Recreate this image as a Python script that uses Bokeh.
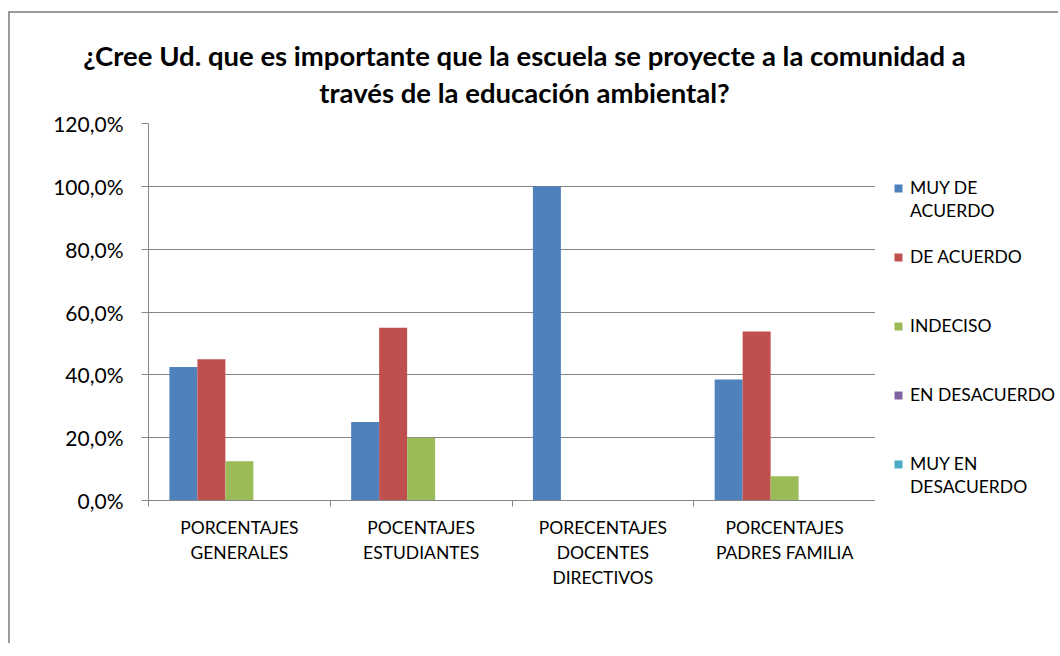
from bokeh.plotting import figure
from bokeh.layouts import column, row
from bokeh.models import FixedTicker, Legend, LegendItem, Label, ColumnDataSource, Range1d
from bokeh.embed import file_html
from bokeh.resources import INLINE

categories = ["PORCENTAJES\nGENERALES", "POCENTAJES\nESTUDIANTES",
              "PORECENTAJES\nDOCENTES\nDIRECTIVOS", "PORCENTAJES\nPADRES FAMILIA"]
series_names = ["MUY DE\nACUERDO", "DE ACUERDO", "INDECISO", "EN DESACUERDO", "MUY EN\nDESACUERDO"]
muy_de_acuerdo = [0.425, 0.25, 1.0, 0.385]
de_acuerdo = [0.45, 0.55, 0.0, 0.538]
indeciso = [0.125, 0.20, 0.0, 0.077]
en_desacuerdo = [0.0, 0.0, 0.0, 0.0]
muy_en_desacuerdo = [0.0, 0.0, 0.0, 0.0]
series_values = [muy_de_acuerdo, de_acuerdo, indeciso, en_desacuerdo, muy_en_desacuerdo]
colors = ["#4F81BD", "#C0504D", "#9BBB59", "#8064A2", "#4BACC6"]
y_ticks = [0.0, 0.2, 0.4, 0.6, 0.8, 1.0, 1.2]
y_tick_labels = ["0,0%", "20,0%", "40,0%", "60,0%", "80,0%", "100,0%", "120,0%"]
title_lines = ["¿Cree Ud. que es importante que la escuela se proyecte a la comunidad a",
               "través de la educación ambiental?"]

FONT = "Lato"
GRAY = "#868686"

# ---------------- title strip ----------------
pt = figure(width=1048, height=96, x_range=Range1d(0, 1048), y_range=Range1d(96, 0),
            output_backend="svg", toolbar_location=None, x_axis_location=None,
            y_axis_location=None, min_border=0)
pt.outline_line_color = None
pt.grid.visible = False
for line, yy in zip(title_lines, [42, 79]):
    pt.add_layout(Label(x=514, y=yy, text=line, text_align="center", text_baseline="middle",
                        text_font=FONT, text_font_style="bold", text_font_size="27.5px",
                        text_color="black"))

# ---------------- main chart ----------------
p = figure(width=865, height=534, x_range=(0, 4), y_range=(0, 1.2),
           output_backend="svg", toolbar_location=None,
           min_border_left=138, min_border_right=0, min_border_top=14, min_border_bottom=143)
p.outline_line_color = None

n_series = len(series_values)
bar_w = 0.154
centers = [i + 0.5 for i in range(len(categories))]
for k, (vals, col) in enumerate(zip(series_values, colors)):
    xs = [c + (k - (n_series - 1) / 2) * bar_w for c in centers]
    src = ColumnDataSource(dict(x=xs, top=vals))
    p.vbar(x="x", top="top", width=bar_w, source=src, fill_color=col, line_color=None)

p.xgrid.grid_line_color = None
p.ygrid.grid_line_color = GRAY
p.ygrid.ticker = FixedTicker(ticks=y_ticks)

ya = p.yaxis[0]
ya.ticker = FixedTicker(ticks=y_ticks)
ya.major_label_overrides = {t: l for t, l in zip(y_ticks, y_tick_labels)}
ya.axis_line_color = GRAY
ya.major_tick_line_color = GRAY
ya.major_tick_out = 7
ya.major_tick_in = 0
ya.minor_tick_line_color = None
ya.major_label_standoff = 18
ya.major_label_text_font = FONT
ya.major_label_text_font_size = "21px"
ya.major_label_text_color = "black"

xa = p.xaxis[0]
xa.ticker = FixedTicker(ticks=centers, minor_ticks=[0, 1, 2, 3, 4])
xa.major_label_overrides = {c: l for c, l in zip(centers, categories)}
xa.axis_line_color = GRAY
xa.major_tick_line_color = None
xa.major_tick_out = 0
xa.major_tick_in = 0
xa.minor_tick_line_color = GRAY
xa.minor_tick_out = 6
xa.minor_tick_in = 0
xa.major_label_standoff = 10
xa.major_label_text_font = FONT
xa.major_label_text_font_size = "17.5px"
xa.major_label_text_line_height = 1.2
xa.major_label_text_color = "black"

# ---------------- legend strip ----------------
pl = figure(width=183, height=534, x_range=Range1d(0, 1), y_range=Range1d(0, 1),
            output_backend="svg", toolbar_location=None, x_axis_location=None,
            y_axis_location=None, min_border=0, min_border_left=11, min_border_top=14,
            min_border_bottom=143)
pl.outline_line_color = None
pl.grid.visible = False
# legend-only renderers placed outside the visible range
swatches = [pl.vbar(x=[-5], top=[0], width=0.1, fill_color=c, line_color=None) for c in colors]
blank = pl.vbar(x=[-5], top=[0], width=0.1, fill_alpha=0, line_alpha=0)

items = []
slot_plan = [(None, None), (None, None),
             (0, 0), (None, 1), (None, None), (1, 0), (None, None), (None, None), (2, 0),
             (None, None), (None, None), (3, 0), (None, None), (None, None), (4, 0), (None, 1)]
last = None
for s, part in slot_plan:
    if s is None and part is None:
        items.append(LegendItem(label=" ", renderers=[blank]))
    elif s is None:
        items.append(LegendItem(label=series_names[last].split("\n")[1], renderers=[blank]))
    else:
        last = s
        items.append(LegendItem(label=series_names[s].split("\n")[0], renderers=[swatches[s]]))

legend = Legend(items=items, location="top_left", padding=0, margin=7, spacing=0,
                glyph_width=10, glyph_height=10, label_height=23, label_standoff=7,
                label_text_font=FONT, label_text_font_size="17.5px", label_text_color="black",
                border_line_color=None, background_fill_alpha=0)
pl.add_layout(legend, "center")

layout = column(pt, row(p, pl, spacing=0), spacing=0)
layout.styles = {"border-left": "2px solid #9b9b9b", "border-top": "2px solid #9b9b9b",
                 "margin-top": "11px", "margin-left": "8px"}

open("out.html", "w").write(file_html(layout, INLINE))
